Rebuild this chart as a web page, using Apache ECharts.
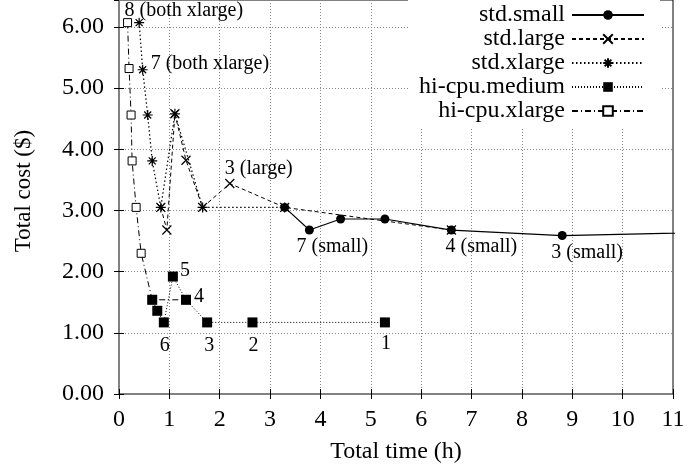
<!DOCTYPE html>
<html><head><meta charset="utf-8">
<script src="https://cdn.jsdelivr.net/npm/echarts@6/dist/echarts.min.js"></script>
<style>html,body{margin:0;padding:0;background:#fff}#c{width:688px;height:473px}</style>
</head><body><div id="c"></div>
<script>
// Data (time in hours, cost in $), ordered by instance count 8 -> 1
const seriesNames = ['std.small', 'std.large', 'std.xlarge', 'hi-cpu.medium', 'hi-cpu.xlarge'];
const stdSmallTime = [3.29, 3.78, 4.40, 5.28, 6.60, 8.80, 13.2];
const stdSmallCost = [3.05, 2.68, 2.86, 2.86, 2.68, 2.59, 2.67];
const stdLargeTime = [0.83, 0.95, 1.11, 1.33, 1.66, 2.20, 3.29, 6.60];
const stdLargeCost = [3.05, 2.68, 4.58, 3.82, 3.05, 3.44, 3.05, 2.68];
const stdXlargeTime = [0.40, 0.47, 0.57, 0.66, 0.83, 1.11, 1.66, 3.29];
const stdXlargeCost = [6.07, 5.30, 4.56, 3.81, 3.05, 4.58, 3.05, 3.05];
const hiMedTime = [0.66, 0.76, 0.89, 1.07, 1.33, 1.75, 2.65, 5.28];
const hiMedCost = [1.54, 1.36, 1.17, 1.92, 1.54, 1.17, 1.17, 1.17];
const hiXlTime = [0.17, 0.20, 0.24, 0.26, 0.34, 0.44, 0.66, 1.33];
const hiXlCost = [6.07, 5.32, 4.56, 3.81, 3.05, 2.30, 1.54, 1.54];
const xTicks = [0,1,2,3,4,5,6,7,8,9,10,11];
const yTicks = ['0.00','1.00','2.00','3.00','4.00','5.00','6.00'];
// annotation texts: [series index, point index, text]
const annotations = [
  [4, 0, '8 (both xlarge)'],
  [2, 1, '7 (both xlarge)'],
  [1, 5, '3 (large)'],
  [0, 1, '7 (small)'],
  [0, 4, '4 (small)'],
  [0, 5, '3 (small)'],
  [3, 2, '6'], [3, 3, '5'], [3, 4, '4'], [3, 5, '3'], [3, 6, '2'], [3, 7, '1']
];
</script>
<script>
const FONT = 'Liberation Serif';
// label layout (offsets from point centre), kept apart from the data
const labelLayout = {
  '4,0': {align:'left', offset:[-3,-12]},
  '2,1': {align:'left', offset:[8,-6]},
  '1,5': {align:'center', offset:[29,-15]},
  '0,1': {align:'center', offset:[23,17]},
  '0,4': {align:'center', offset:[30,17]},
  '0,5': {align:'center', offset:[25,17]},
  '3,2': {align:'center', offset:[1,23]},
  '3,3': {align:'center', offset:[12,-6]},
  '3,4': {align:'center', offset:[13,-3]},
  '3,5': {align:'center', offset:[2,23]},
  '3,6': {align:'center', offset:[1,23]},
  '3,7': {align:'center', offset:[1,21]}
};
const times = [stdSmallTime, stdLargeTime, stdXlargeTime, hiMedTime, hiXlTime];
const costs = [stdSmallCost, stdLargeCost, stdXlargeCost, hiMedCost, hiXlCost];
function buildData(si){
  return times[si].map((t,i)=>{
    const a = annotations.find(a=>a[0]===si && a[1]===i);
    if(!a) return [t, costs[si][i]];
    const L = labelLayout[si+','+i];
    return {value:[t, costs[si][i]], label:{show:true, formatter:a[2], position:'inside',
      align:L.align, verticalAlign:'middle', offset:L.offset, fontFamily:FONT, fontSize:20, color:'#000'}};
  });
}
const X_SYM = 'path://M0,0L10,10M10,0L0,10';
const STAR_SYM = 'path://M0,5L10,5M5,0L5,10M1.5,1.5L8.5,8.5M8.5,1.5L1.5,8.5';
const styles = [
  {symbol:'circle', symbolSize:9, z:6, line:{type:'solid', width:1.2}, item:{color:'#000'}},
  {symbol:X_SYM, symbolSize:9, z:3, line:{type:[4,3], width:1}, item:{color:'#000', borderColor:'#000', borderWidth:1.2}},
  {symbol:STAR_SYM, symbolSize:10, z:3, line:{type:[1.5,2.5], width:1.2}, item:{color:'#000', borderColor:'#000', borderWidth:1.2}},
  {symbol:'rect', symbolSize:10, z:5, line:{type:[1,2], width:1}, item:{color:'#000'}},
  {symbol:'rect', symbolSize:8, z:4, line:{type:[6,3,1,3], width:1}, item:{color:'#fff', borderColor:'#000', borderWidth:1}}
];
const series = seriesNames.map((n,si)=>({
  name:n, type:'line', data:buildData(si), symbol:styles[si].symbol, symbolSize:styles[si].symbolSize,
  showAllSymbol:true, clip:true, animation:false, z:styles[si].z,
  lineStyle:Object.assign({color:'#000'}, styles[si].line),
  itemStyle:styles[si].item, emphasis:{disabled:true}
}));
const tickStyle = {show:true, inside:true, length:5, lineStyle:{color:'#000'}};
const chart = echarts.init(document.getElementById('c'), null, {renderer:'canvas'});
chart.setOption({
  animation:false,
  backgroundColor:'#fff',
  grid:{left:119, right:15, top:0, bottom:79, show:true, borderColor:'#000', borderWidth:1},
  legend:{orient:'vertical', right:28, top:0, align:'right', backgroundColor:'#fff', z:10,
    padding:[3,15,4,11], itemWidth:72, itemHeight:12, itemGap:0,
    textStyle:{fontFamily:FONT, fontSize:24, color:'#000', lineHeight:24, padding:[0,2,0,0]},
    data:seriesNames, selectedMode:false},
  xAxis:[{type:'value', min:xTicks[0], max:xTicks[xTicks.length-1], interval:1,
    name:'Total time (h)', nameLocation:'middle', nameGap:46,
    nameTextStyle:{fontFamily:FONT, fontSize:24, color:'#000'},
    axisLine:{show:false}, axisTick:tickStyle,
    axisLabel:{fontFamily:FONT, fontSize:24, color:'#000', margin:14, formatter:v=>xTicks.includes(v)?String(v):''},
    splitLine:{show:true, lineStyle:{color:'#888', type:[1,2], width:1}}},
   {type:'value', position:'top', min:0, max:11, interval:1, axisLine:{show:false}, axisTick:tickStyle,
    axisLabel:{show:false}, splitLine:{show:false}}],
  yAxis:[{type:'value', min:0, max:6.44, interval:1,
    name:'Total cost ($)', nameLocation:'middle', nameGap:84,
    nameTextStyle:{fontFamily:FONT, fontSize:23, color:'#000', padding:[0,0,0,12]},
    axisLine:{show:false}, axisTick:tickStyle,
    axisLabel:{fontFamily:FONT, fontSize:24, color:'#000', margin:15, showMaxLabel:false,
      formatter:v=>{const s=v.toFixed(2); return yTicks.includes(s)?s:'';}},
    splitLine:{show:true, lineStyle:{color:'#888', type:[1,2], width:1}}},
   {type:'value', position:'right', min:0, max:6.44, interval:1, axisLine:{show:false}, axisTick:tickStyle,
    axisLabel:{show:false}, splitLine:{show:false}}],
  series:series
});
</script></body></html>
